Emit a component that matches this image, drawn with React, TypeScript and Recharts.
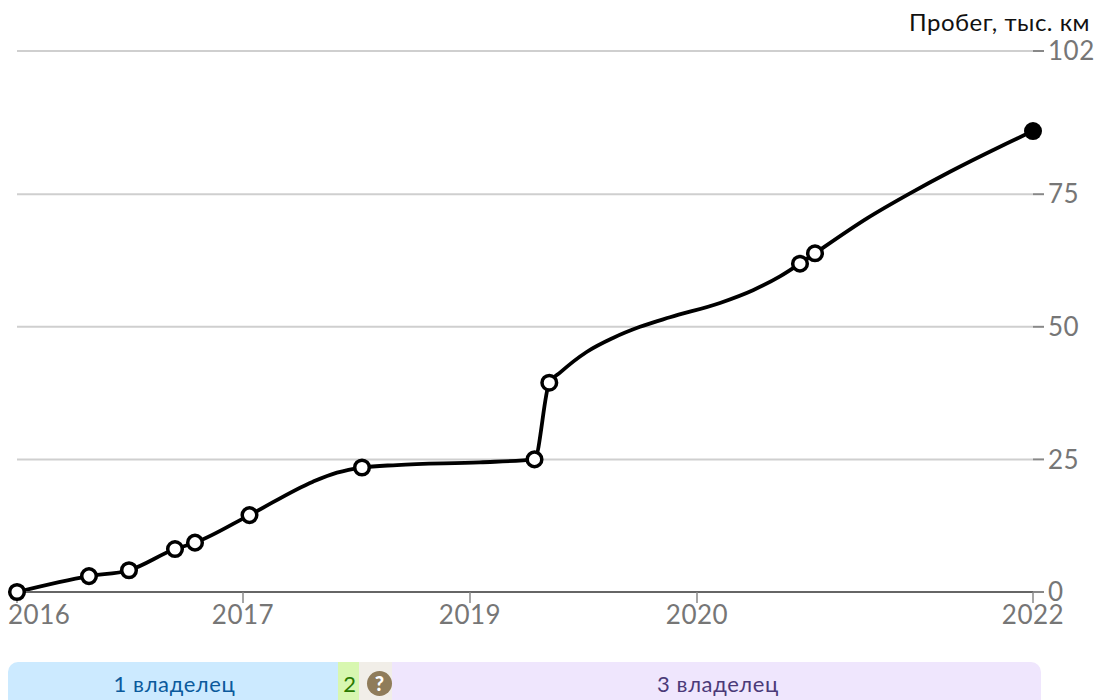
import React from "react";
import { LineChart, Line, XAxis, YAxis, CartesianGrid } from "recharts";

// Horizontal position on the (non-uniform) time axis
const positions = [0, 72, 112, 158, 178, 232.5, 296, 320, 345, 380, 463, 517.5, 532.3, 543, 570, 596, 623, 653, 703, 736, 763, 783, 798, 850, 893, 933, 983, 1016];
const mileage = [0, 3.0, 4.1, 8.1, 9.3, 14.5, 20.8, 22.5, 23.47, 23.94, 24.45, 25.0, 39.46, 41.35, 45.3, 47.9, 50.0, 51.8, 54.5, 56.9, 59.5, 61.9, 63.86, 70.46, 75.17, 79.24, 83.96, 86.9];
const markers = ["o", "o", "o", "o", "o", "o", "", "", "o", "", "", "o", "o", "", "", "", "", "", "", "", "", "o", "o", "", "", "", "", "e"];

const xTicks = [0, 226, 453, 680, 1016];
const xLabels = ["2016", "2017", "2019", "2020", "2022"];
const yTicks = [0, 25, 50, 75, 102];

const owners = [
  { label: "1 владелец", width: 330, bg: "#cceaff", color: "#0b5a9c" },
  { label: "2", width: 21, bg: "#d8f7b0", color: "#2a7a00" },
  { label: "?", width: 33, bg: "#f1eee8", color: "#fff" },
  { label: "3 владелец", width: 649, bg: "#efe6fd", color: "#4b3a78" },
];

const data = positions.map((x, i) => ({ x, mileage: mileage[i], marker: markers[i] }));
const FONT = "Lato, sans-serif";
const AXIS_TEXT = "#767676";

const Dot = (props: any) => {
  const { cx, cy, payload, index } = props;
  if (!payload.marker) return <g key={index} />;
  return payload.marker === "e" ? (
    <circle key={index} cx={cx} cy={cy} r={9} fill="#000" />
  ) : (
    <circle key={index} cx={cx} cy={cy} r={7.3} fill="#fff" stroke="#000" strokeWidth={3.5} />
  );
};

const XTick = (props: any) => {
  const { x, y, payload } = props;
  const first = payload.value === xTicks[0];
  return (
    <text
      x={first ? x - 9 : x}
      y={y + 9}
      textAnchor={first ? "start" : "middle"}
      dominantBaseline="central"
      fill={AXIS_TEXT}
      fontSize={26}
      fontFamily={FONT}
      letterSpacing={0.5}
    >
      {xLabels[xTicks.indexOf(payload.value)]}
    </text>
  );
};

export default function App() {
  return (
    <div style={{ position: "absolute", left: 0, top: 0, width: 1096, height: 700, overflow: "hidden", fontFamily: FONT, background: "#fff" }}>
      <LineChart width={1096} height={700} data={data} margin={{ top: 51, right: 0, left: 17, bottom: 0 }}>
        <CartesianGrid horizontal vertical={false} stroke="#cfcfcf" strokeWidth={2} />
        <XAxis
          type="number"
          dataKey="x"
          domain={[0, 1016]}
          ticks={xTicks}
          height={108}
          interval={0}
          axisLine={{ stroke: "#666", strokeWidth: 2 }}
          tickLine={{ stroke: "#888", strokeWidth: 1.5 }}
          tickSize={11}
          tick={XTick}
        />
        <YAxis
          orientation="right"
          width={63}
          type="number"
          domain={[0, 102]}
          ticks={yTicks}
          interval={0}
          axisLine={false}
          tickLine={{ stroke: "#888", strokeWidth: 2 }}
          tickSize={11}
          tickMargin={4}
          tick={{ fill: AXIS_TEXT, fontSize: 26, fontFamily: FONT, letterSpacing: 0.5 }}
        />
        <Line
          type="monotone"
          dataKey="mileage"
          stroke="#000"
          strokeWidth={3.8}
          dot={Dot}
          activeDot={false}
          isAnimationActive={false}
        />
      </LineChart>
      <div style={{ position: "absolute", right: 6, top: 7, fontSize: 24, letterSpacing: 0.5, lineHeight: "30px", color: "#111" }}>Пробег, тыс. км</div>
      <div style={{ position: "absolute", left: 8, top: 662, height: 38, display: "flex", borderRadius: "10px 10px 0 0", overflow: "hidden" }}>
        {owners.map((o) => (
          <div key={o.label} style={{ width: o.width, boxSizing: "border-box", paddingLeft: o.label === "?" ? 8 : 3, background: o.bg, color: o.color, fontSize: 22, letterSpacing: 0.6, lineHeight: "43px", textAlign: "center", height: 38 }}>
            {o.label === "?" ? (
              <span style={{ display: "inline-block", width: 25, height: 25, lineHeight: "25px", borderRadius: "50%", background: "#8f7c5a", fontWeight: 900, fontSize: 20, letterSpacing: 0, position: "relative", top: -1 }}>?</span>
            ) : (
              o.label
            )}
          </div>
        ))}
      </div>
    </div>
  );
}
